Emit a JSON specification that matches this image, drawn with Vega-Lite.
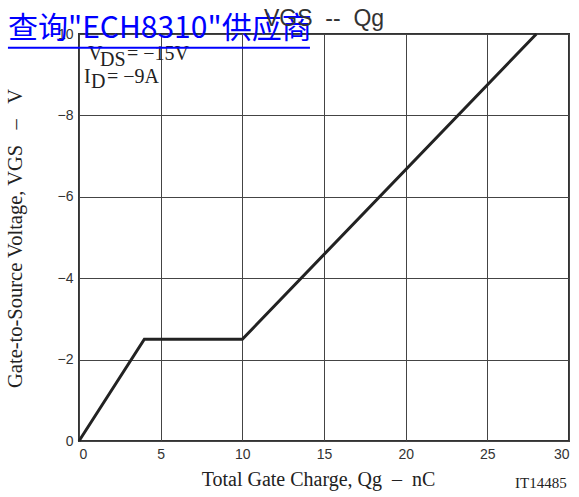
{
  "$schema": "https://vega.github.io/schema/vega-lite/v6.json",
  "width": 490,
  "height": 407,
  "autosize": "none",
  "padding": {"left": 79, "top": 34, "right": 10, "bottom": 56},
  "background": "white",
  "title": {"text": "VGS\u00a0\u00a0--\u00a0\u00a0Qg", "font": "Liberation Sans", "fontSize": 23, "fontWeight": "normal", "color": "#333", "offset": -17, "anchor": "middle"},
  "config": {
    "view": {"stroke": "#333", "strokeWidth": 2},
    "axis": {"grid": true, "gridColor": "#444", "gridWidth": 1, "gridOpacity": 1, "ticks": false, "domain": false,
             "labelFont": "Liberation Sans", "labelFontSize": 14, "labelColor": "#333",
             "titleFont": "Liberation Serif", "titleFontSize": 20, "titleFontWeight": "normal", "titleColor": "#222"}
  },
  "layer": [
    {
      "data": {"values": [
        {"q": 0, "v": 0},
        {"q": 4, "v": -2.5},
        {"q": 10, "v": -2.5},
        {"q": 28, "v": -10}
      ]},
      "mark": {"type": "line", "color": "#222", "strokeWidth": 3, "strokeCap": "butt", "strokeJoin": "miter"},
      "encoding": {
        "x": {"field": "q", "type": "quantitative", "scale": {"domain": [0, 30], "nice": false},
              "axis": {"values": [0, 5, 10, 15, 20, 25, 30], "title": "Total Gate Charge, Qg\u00a0\u00a0–\u00a0\u00a0nC", "labelPadding": 6, "titlePadding": 8, "titleX": 239}},
        "y": {"field": "v", "type": "quantitative", "scale": {"domain": [-10, 0], "reverse": true, "nice": false},
              "axis": {"values": [0, -2, -4, -6, -8, -10], "labelExpr": "datum.value == 0 ? '0' : '−' + abs(datum.value)", "title": "Gate-to-Source Voltage, VGS\u00a0\u00a0\u00a0–\u00a0\u00a0\u00a0V", "labelPadding": 6, "titlePadding": 24, "titleFontSize": 20.5, "titleY": 204}}
      }
    },
    {
      "data": {"values": [{"t": "V"}]},
      "mark": {"type": "text", "font": "Liberation Serif", "fontSize": 20, "color": "#222", "align": "left", "baseline": "alphabetic"},
      "encoding": {"x": {"datum": 0.55}, "y": {"datum": -9.36}, "text": {"field": "t"}}
    },
    {
      "data": {"values": [{"t": "DS"}]},
      "mark": {"type": "text", "font": "Liberation Serif", "fontSize": 20, "color": "#222", "align": "left", "baseline": "alphabetic"},
      "encoding": {"x": {"datum": 1.29}, "y": {"datum": -9.22}, "text": {"field": "t"}}
    },
    {
      "data": {"values": [{"t": "= −15V"}]},
      "mark": {"type": "text", "font": "Liberation Serif", "fontSize": 20, "color": "#222", "align": "left", "baseline": "alphabetic"},
      "encoding": {"x": {"datum": 2.94}, "y": {"datum": -9.36}, "text": {"field": "t"}}
    },
    {
      "data": {"values": [{"t": "I"}]},
      "mark": {"type": "text", "font": "Liberation Serif", "fontSize": 20, "color": "#222", "align": "left", "baseline": "alphabetic"},
      "encoding": {"x": {"datum": 0.31}, "y": {"datum": -8.8}, "text": {"field": "t"}}
    },
    {
      "data": {"values": [{"t": "D"}]},
      "mark": {"type": "text", "font": "Liberation Serif", "fontSize": 20, "color": "#222", "align": "left", "baseline": "alphabetic"},
      "encoding": {"x": {"datum": 0.74}, "y": {"datum": -8.67}, "text": {"field": "t"}}
    },
    {
      "data": {"values": [{"t": "= −9A"}]},
      "mark": {"type": "text", "font": "Liberation Serif", "fontSize": 20, "color": "#222", "align": "left", "baseline": "alphabetic"},
      "encoding": {"x": {"datum": 1.71}, "y": {"datum": -8.8}, "text": {"field": "t"}}
    },
    {
      "data": {"values": [{"t": "IT14485"}]},
      "mark": {"type": "text", "font": "Liberation Serif", "fontSize": 15, "color": "#222", "align": "left", "baseline": "alphabetic"},
      "encoding": {"x": {"datum": 26.7}, "y": {"datum": 1.15}, "text": {"field": "t"}}
    },
    {
      "data": {"values": [{"t": "查询\"ECH8310\"供应商"}]},
      "mark": {"type": "text", "font": "Noto Sans CJK SC", "fontSize": 30, "color": "#0000FF", "align": "left", "baseline": "middle"},
      "encoding": {"x": {"datum": -4.35}, "y": {"datum": -10.12}, "text": {"field": "t"}}
    },
    {
      "data": {"values": [{"t": "underline"}]},
      "mark": {"type": "rule", "color": "#0000FF", "strokeWidth": 2},
      "encoding": {"x": {"datum": -4.35}, "x2": {"datum": 14.14}, "y": {"datum": -9.66}}
    }
  ]
}
